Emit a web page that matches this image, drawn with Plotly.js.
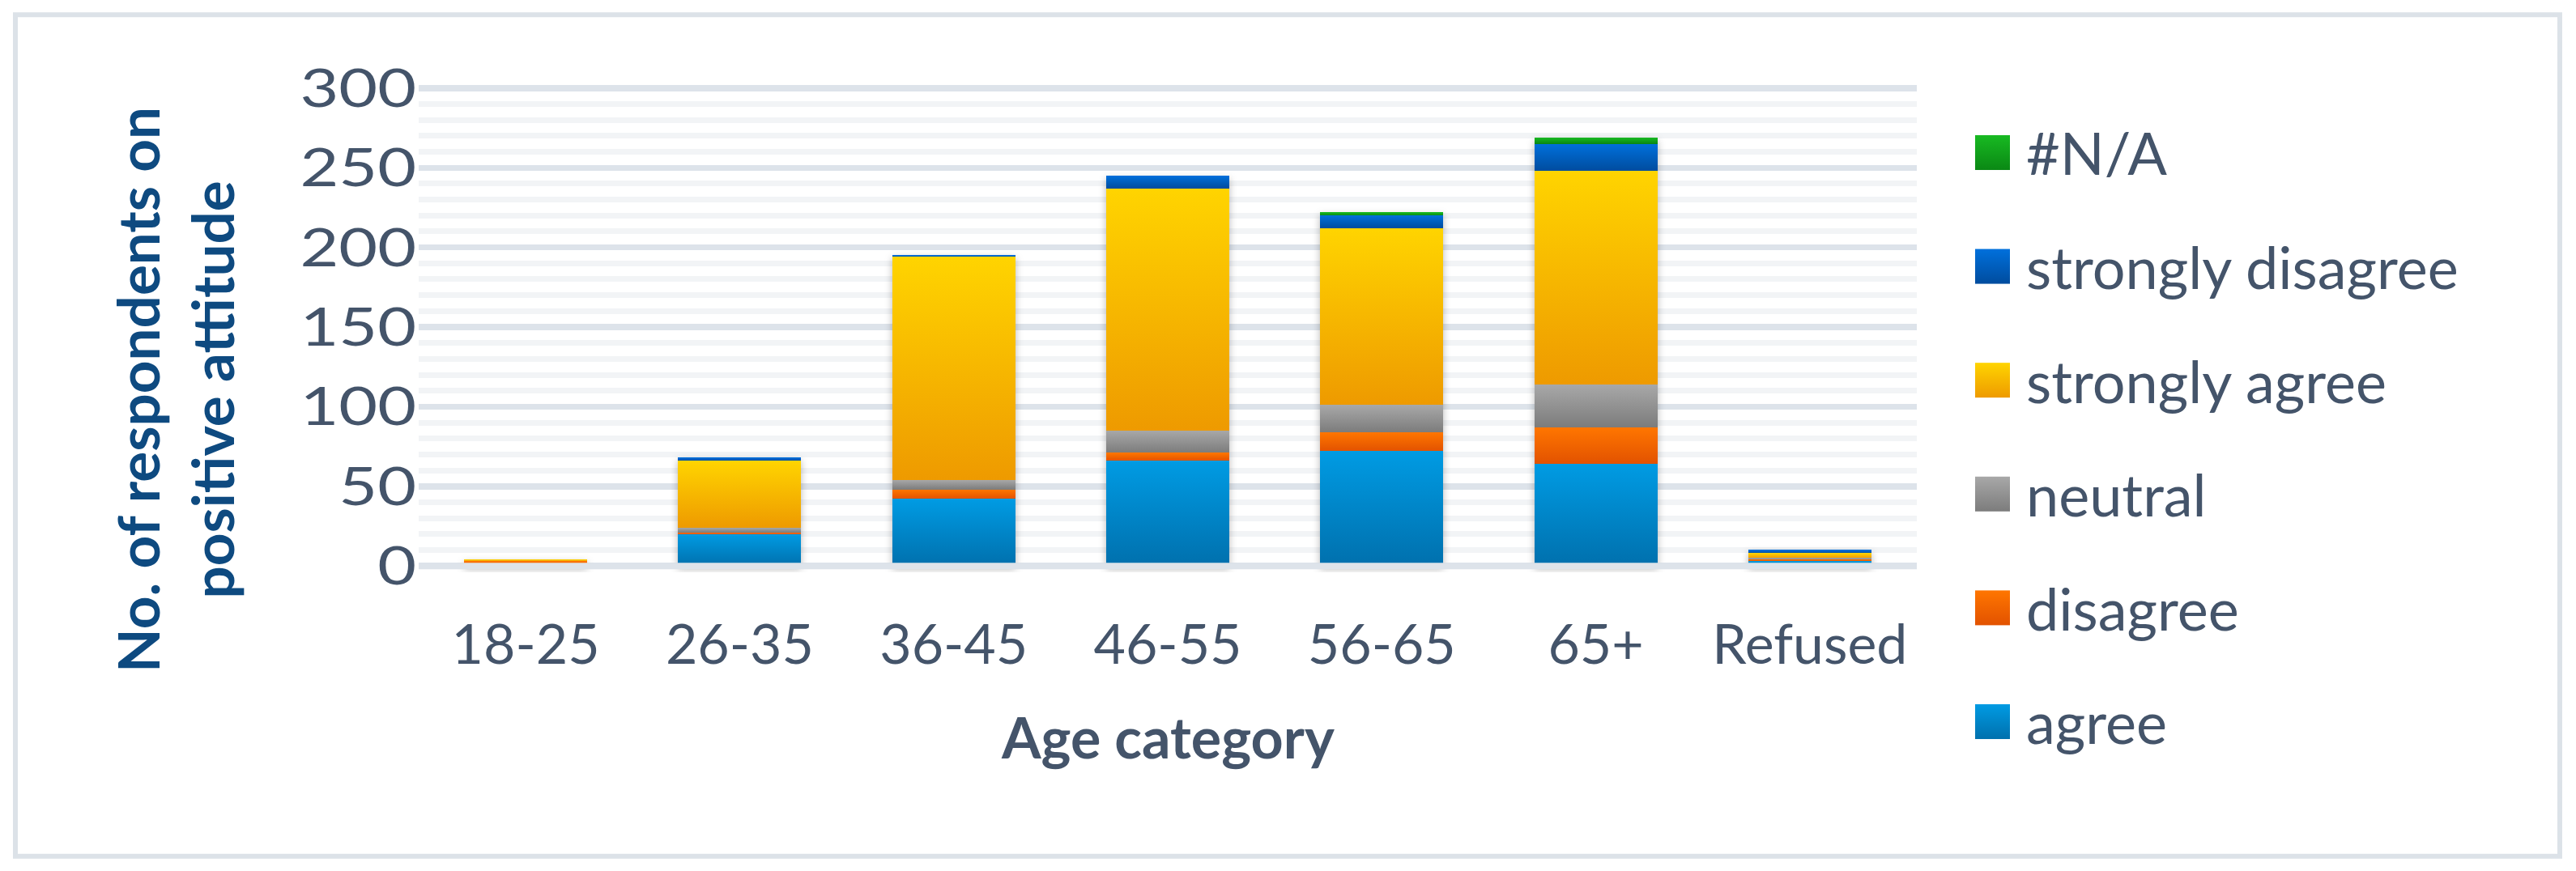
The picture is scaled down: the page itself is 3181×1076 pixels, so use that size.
<!DOCTYPE html>
<html>
<head>
<meta charset="utf-8">
<script src="https://cdn.plot.ly/plotly-3.0.1.min.js"></script>
<style>
  html, body { margin: 0; padding: 0; background: #ffffff; }
  #plot { width: 3181px; height: 1076px; }
</style>
</head>
<body>
<div id="plot"></div>
<script>
// ---- data ----
const categories = ['18-25', '26-35', '36-45', '46-55', '56-65', '65+', 'Refused'];
const agree            = [0, 20, 42, 66, 72, 64, 3];
const disagree         = [3, 1, 6, 5, 12, 23, 1];
const neutral          = [0, 3, 6, 14, 17, 27, 1];
const stronglyAgree    = [1, 42, 140, 152, 111, 134, 3];
const stronglyDisagree = [0, 2, 1, 8, 8, 17, 2];
const notAvailable     = [0, 0, 0, 0, 2, 4, 0];

const seriesNames  = ['agree', 'disagree', 'neutral', 'strongly agree', 'strongly disagree', '#N/A'];
const seriesValues = [agree, disagree, neutral, stronglyAgree, stronglyDisagree, notAvailable];
const yTickValues  = [0, 50, 100, 150, 200, 250, 300];

// ---- styles ----
const midColors = ['#0086C8', '#F56300', '#939393', '#F8B800', '#0060C0', '#12A01A'];
const gradTop   = ['#009BE3', '#FF7600', '#A8A8A8', '#FFD400', '#0070DC', '#18BA22'];
const gradBot   = ['#0070AD', '#E25200', '#7C7C7C', '#EE9A00', '#004C9E', '#0A8814'];
const textColor = '#44546A';
const titleColor = '#0E4A80';
const FONT = 'Lato, "Open Sans", sans-serif';

const W = 3181, H = 1076;
const L = 517, R = 814, T = 100.9, B = 368.8;
const plotW = W - L - R, plotH = H - T - B;
const px2x = p => (p - L) / plotW;
const py2y = p => (H - B - p) / plotH;

const traces = seriesNames.map((name, i) => ({
  type: 'bar',
  name: name,
  x: categories,
  y: seriesValues[i],
  legendgroup: 'g' + i,
  legendrank: 100 - i,
  marker: { color: midColors[i], line: { width: 0 } },
  hoverinfo: 'skip'
}));

const layout = {
  width: W, height: H,
  margin: { l: L, r: R, t: T, b: B, pad: 0 },
  paper_bgcolor: '#ffffff',
  plot_bgcolor: 'rgba(0,0,0,0)',
  barmode: 'stack',
  bargap: 0.425,
  showlegend: true,
  legend: {
    x: px2x(2392), xanchor: 'left',
    y: py2y(135), yanchor: 'top',
    traceorder: 'grouped',
    tracegroupgap: 44,
    itemwidth: 100,
    maxheight: 1000,
    font: { family: FONT, size: 72, color: textColor },
    bgcolor: 'rgba(0,0,0,0)',
    borderwidth: 0,
    itemclick: false, itemdoubleclick: false
  },
  xaxis: {
    type: 'category',
    showgrid: false, zeroline: false, showline: false,
    ticks: '',
    ticklabelstandoff: 44,
    tickfont: { family: FONT, size: 68, color: textColor },
    fixedrange: true
  },
  yaxis: {
    range: [-4, 304],
    tickvals: yTickValues,
    ticktext: yTickValues.map(String),
    showgrid: true, gridcolor: '#DDE3EA', gridwidth: 7.5,
    minor: { dtick: 10, tick0: 0, showgrid: true, gridcolor: '#F2F4F6', gridwidth: 7, ticks: '' },
    zeroline: false, showline: false,
    ticks: '',
    ticklabelstandoff: 2,
    tickfont: { family: FONT, size: 66, color: textColor },
    fixedrange: true
  },
  shapes: [
    { type: 'line', xref: 'paper', x0: 0, x1: 1, yref: 'y', y0: 0, y1: 0,
      line: { color: '#DDE3EA', width: 8 }, layer: 'above' },
    { type: 'rect', xref: 'paper', yref: 'paper',
      x0: px2x(19), x1: px2x(3161), y0: py2y(1058), y1: py2y(18),
      line: { color: '#DCE2E8', width: 6 }, fillcolor: 'rgba(0,0,0,0)', layer: 'below' }
  ],
  annotations: [
    { text: '<b>No. of respondents on<br>positive attitude</b>', textangle: -90,
      xref: 'paper', yref: 'paper', x: px2x(216), y: py2y(482),
      xanchor: 'center', yanchor: 'middle', showarrow: false,
      font: { family: FONT, size: 71, color: titleColor } },
    { text: '<b>Age category</b>',
      xref: 'paper', yref: 'paper', x: 0.5, y: py2y(910),
      xanchor: 'center', yanchor: 'middle', showarrow: false,
      font: { family: FONT, size: 70, color: textColor } }
  ]
};

Plotly.newPlot('plot', traces, layout, { displayModeBar: false, staticPlot: true }).then(gd => {
  const svgNS = 'http://www.w3.org/2000/svg';
  const defs = gd.querySelector('.main-svg defs');
  seriesNames.forEach((n, i) => {
    const g = document.createElementNS(svgNS, 'linearGradient');
    g.setAttribute('id', 'grad' + i);
    g.setAttribute('x1', '0'); g.setAttribute('y1', '0');
    g.setAttribute('x2', '0'); g.setAttribute('y2', '1');
    const s1 = document.createElementNS(svgNS, 'stop');
    s1.setAttribute('offset', '0'); s1.setAttribute('stop-color', gradTop[i]);
    const s2 = document.createElementNS(svgNS, 'stop');
    s2.setAttribute('offset', '1'); s2.setAttribute('stop-color', gradBot[i]);
    g.appendChild(s1); g.appendChild(s2);
    defs.appendChild(g);
  });
  // bar fills
  gd.querySelectorAll('.barlayer .trace').forEach((tr, i) => {
    tr.querySelectorAll('path').forEach(p => { p.style.fill = 'url(#grad' + i + ')'; });
  });
  const bl = gd.querySelector('.barlayer');
  if (bl) bl.style.filter = 'drop-shadow(0px 4px 5px rgba(0,0,0,0.28))';
  // y tick labels: widen horizontally around their right edge (reference digits are wide)
  gd.querySelectorAll('.ytick text').forEach(t => {
    const x = parseFloat(t.getAttribute('x')) || 0;
    const tf = t.getAttribute('transform') || '';
    t.setAttribute('transform', tf + ' translate(' + x + ',0) scale(1.25,1) translate(' + (-x) + ',0)');
  });
  // legend swatches: larger gradient squares just left of each legend text
  const legendRoot = gd.querySelector('.legend');
  if (legendRoot) {
    const rootCtm = legendRoot.getScreenCTM();
    gd.querySelectorAll('.legend .traces').forEach(tr => {
      const txt = tr.querySelector('.legendtext');
      if (!txt) return;
      const idx = seriesNames.indexOf(txt.textContent);
      if (idx < 0) return;
      tr.querySelectorAll('.legendpoints path').forEach(p => { p.style.opacity = 0; });
      const r = txt.getBoundingClientRect();
      const size = 43;
      const right = r.left - 20;
      const cy = r.top + r.height * 0.5;
      const rect = document.createElementNS(svgNS, 'rect');
      rect.setAttribute('x', (right - size - rootCtm.e).toFixed(1));
      rect.setAttribute('y', (cy - size / 2 - rootCtm.f).toFixed(1));
      rect.setAttribute('width', size);
      rect.setAttribute('height', size);
      rect.style.fill = 'url(#grad' + idx + ')';
      legendRoot.appendChild(rect);
    });
  }
});
</script>
</body>
</html>
